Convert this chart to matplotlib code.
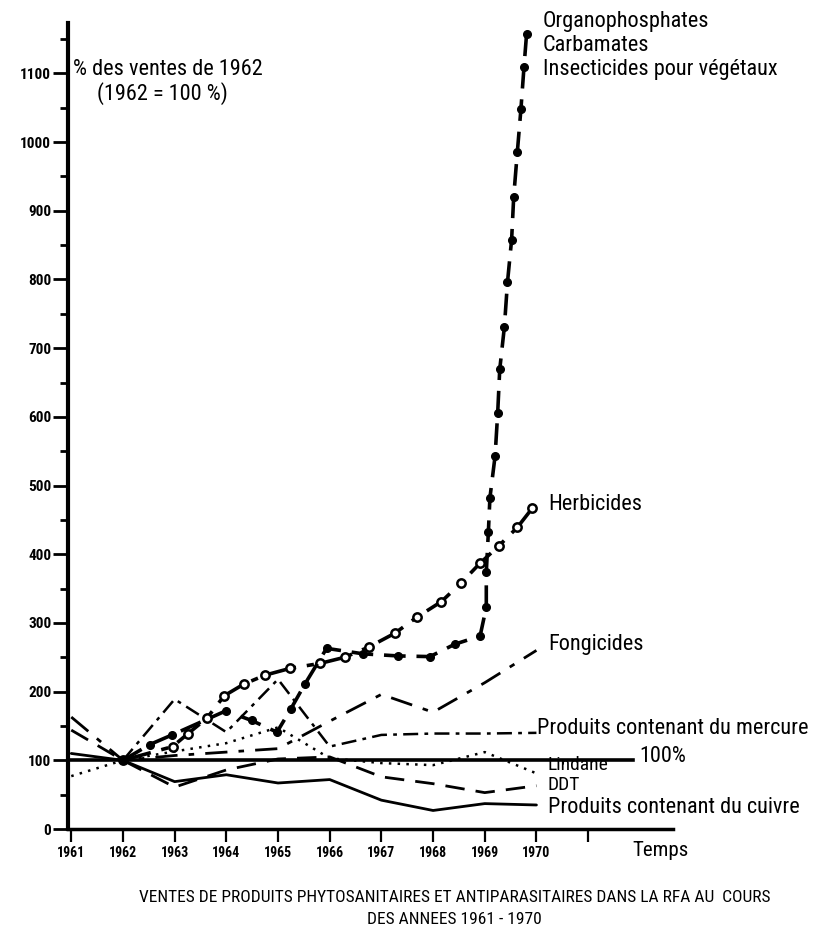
import matplotlib
matplotlib.use('Agg')
import matplotlib.pyplot as plt
import numpy as np

plt.rcParams['font.family'] = ['Liberation Sans Narrow', 'Roboto Condensed', 'DejaVu Sans']

years = [1961, 1962, 1963, 1964, 1965, 1966, 1967, 1968, 1969, 1970]

# yearly series (% of 1962 sales)
fongicides = [163, 100, 107, 112, 117, 157, 196, 170, 213, 260]
mercure = [None, 100, 189, 141, 218, 120, 137, 139, 139, 140]
lindane = [77, 100, 113, 125, 148, 103, 96, 93, 112, 81]
ddt = [144, 100, 61, 86, 102, 105, 76, 66, 53, 63]
cuivre = [110, 100, 69, 79, 67, 72, 42, 27, 37, 35]

# series sampled at sub-year points
orga_x = [1962, 1962.52, 1962.95, 1963.99, 1964.49, 1964.98, 1965.25, 1965.52,
          1965.94, 1966.65, 1967.32, 1967.94, 1968.42, 1968.91, 1969.03, 1969.03,
          1969.07, 1969.10, 1969.20, 1969.25, 1969.29, 1969.38, 1969.44, 1969.52,
          1969.56, 1969.63, 1969.70, 1969.76, 1969.81]
orga_y = [100, 123, 137, 172, 158, 141, 175, 211, 263, 255, 252, 251, 269, 281,
          323, 374, 432, 482, 543, 605, 669, 731, 796, 858, 920, 985, 1048, 1110, 1158]

herb_x = [1962, 1962.96, 1963.26, 1963.62, 1963.96, 1964.34, 1964.75, 1965.24,
          1965.81, 1966.29, 1966.76, 1967.26, 1967.68, 1968.16, 1968.54, 1968.91,
          1969.27, 1969.63, 1969.92]
herb_y = [100, 120, 139, 161, 194, 211, 224, 234, 241, 250, 265, 285, 308, 331,
          358, 387, 412, 439, 467]

ref_level = 100

fig = plt.figure(figsize=(8.39, 9.48), dpi=100)
ax = fig.add_axes([0.081, 0.1255, 0.721, 0.850])

k = 'black'
ax.plot(years, cuivre, color=k, lw=2.0, solid_capstyle='round')
ax.plot(years, ddt, color=k, lw=2.0, dashes=(7, 4))
ax.plot(years, lindane, color=k, lw=1.8, dashes=(1, 2.5))
ax.plot(years[1:], mercure[1:], color=k, lw=1.8, dashes=(6, 2.5, 1.5, 2.5))
ax.plot(years, fongicides, color=k, lw=2.0, dashes=(8, 4, 2, 4))
ax.axhline(ref_level, xmin=0, xmax=0.934, color=k, lw=2.6)

ax.plot(herb_x, herb_y, color=k, lw=2.6, dashes=(8, 3, 2, 3),
        marker='o', ms=6, mfc='white', mec=k, mew=1.8)
ax.plot(orga_x, orga_y, color=k, lw=2.6, dashes=(6, 3),
        marker='o', ms=5.5, mfc=k, mec=k)

ax.set_xlim(1960.936, 1972.64)
ax.set_ylim(0, 1173)

for s in ['top', 'right']:
    ax.spines[s].set_visible(False)
ax.spines['left'].set_linewidth(3)
ax.spines['bottom'].set_linewidth(2.5)

ax.set_yticks(np.arange(0, 1101, 100))
ax.set_yticks(np.arange(50, 1151, 100), minor=True)
ax.set_yticklabels([str(v) for v in range(0, 1101, 100)], fontsize=11, fontweight='bold')
ax.tick_params(axis='y', which='major', length=11, width=2, direction='out', pad=1)
ax.tick_params(axis='y', which='minor', length=6, width=2, direction='out')

ax.set_xticks(list(range(1961, 1972)))
ax.set_xticklabels([str(y) for y in years] + [''], fontsize=10, fontweight='bold')
ax.tick_params(axis='x', length=9, width=1.6, direction='out', pad=3)

fs = 16
ax.text(1970.12, 1175, 'Organophosphates', fontsize=fs, va='center', ha='left')
ax.text(1970.12, 1141, 'Carbamates', fontsize=fs, va='center', ha='left')
ax.text(1970.12, 1105, 'Insecticides pour végétaux', fontsize=fs, va='center', ha='left')
ax.text(1970.22, 472, 'Herbicides', fontsize=fs, va='center', ha='left')
ax.text(1970.22, 268, 'Fongicides', fontsize=fs, va='center', ha='left')
ax.text(1970.01, 147, 'Produits contenant du mercure', fontsize=fs, va='center', ha='left')
ax.text(1972.0, 105, '100%', fontsize=fs, va='center', ha='left')
ax.text(1970.22, 93, 'Lindane', fontsize=14, va='center', ha='left')
ax.text(1970.22, 64, 'DDT', fontsize=14, va='center', ha='left')
ax.text(1970.22, 32, 'Produits contenant du cuivre', fontsize=fs, va='center', ha='left')
ax.text(1961.03, 1105, '% des ventes de 1962', fontsize=fs, va='center', ha='left')
ax.text(1961.5, 1071, '(1962 = 100 %)', fontsize=fs, va='center', ha='left')
ax.text(1971.85, -31, 'Temps', fontsize=fs - 1, va='center', ha='left')

fig.text(0.542, 1 - 897 / 948, 'VENTES DE PRODUITS PHYTOSANITAIRES ET ANTIPARASITAIRES DANS LA RFA AU  COURS',
         fontsize=12.5, ha='center', va='center')
fig.text(0.542, 1 - 920 / 948, 'DES ANNEES 1961 - 1970', fontsize=12.5, ha='center', va='center')

fig.savefig('out.png', dpi=100)
